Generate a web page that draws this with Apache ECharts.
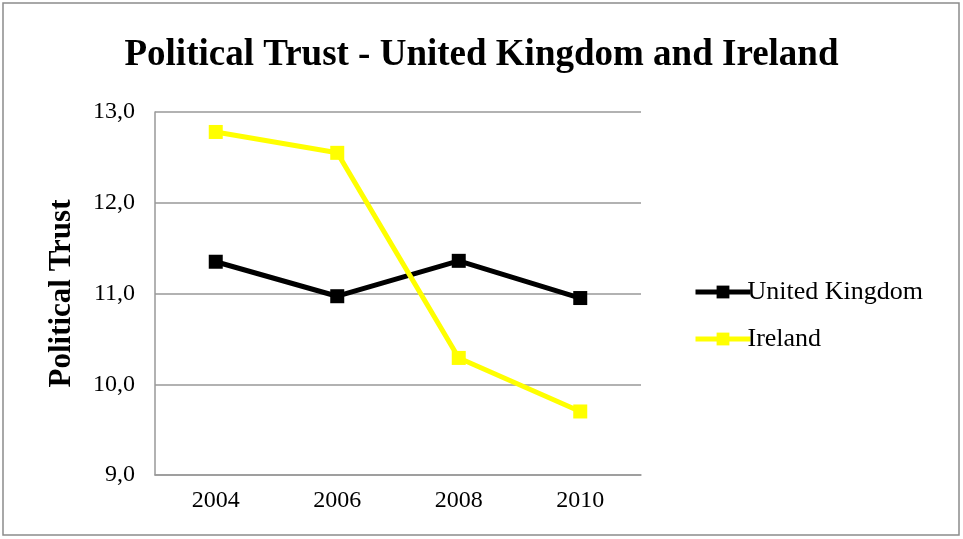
<!DOCTYPE html>
<html>
<head>
<meta charset="utf-8">
<script src="https://cdn.jsdelivr.net/npm/echarts@6/dist/echarts.min.js"></script>
<style>
  html, body { margin: 0; padding: 0; background: #fff; }
  #main { width: 963px; height: 539px; }
</style>
</head>
<body>
<div id="main"></div>
<script>
  // data
  const years = ['2004', '2006', '2008', '2010'];
  const ukValues = [11.35, 10.97, 11.36, 10.95];
  const irelandValues = [12.78, 12.55, 10.29, 9.70];

  const serif = '"Liberation Serif", "DejaVu Serif", serif';

  const myChart = echarts.init(document.getElementById('main'));
  const option = {
    animation: false,
    backgroundColor: '#fff',
    textStyle: { fontFamily: serif },
    title: {
      text: 'Political Trust - United Kingdom and Ireland',
      left: 'center',
      top: 32,
      textStyle: { fontFamily: serif, fontSize: 37, fontWeight: 'bold', color: '#000' }
    },
    graphic: [
      {
        type: 'rect',
        shape: { x: 3, y: 3, width: 956, height: 532 },
        style: { fill: 'none', stroke: '#8c8c8c', lineWidth: 1.5 },
        silent: true
      }
    ],
    legend: {
      orient: 'vertical',
      left: 688,
      top: 274,
      itemWidth: 55,
      itemHeight: 16,
      itemGap: 21,
      lineStyle: { width: 5 },
      textStyle: { fontFamily: serif, fontSize: 26, color: '#000', padding: [0, 0, 0, -8] },
      data: ['United Kingdom', 'Ireland']
    },
    grid: {
      left: 155,
      right: 322,
      top: 112,
      bottom: 64
    },
    xAxis: {
      type: 'category',
      data: years,
      axisLine: { lineStyle: { color: '#999', width: 1.5 } },
      axisTick: { show: false },
      axisLabel: { fontFamily: serif, fontSize: 24, color: '#000', margin: 14 }
    },
    yAxis: {
      type: 'value',
      min: 9,
      max: 13,
      interval: 1,
      name: 'Political Trust',
      nameLocation: 'middle',
      nameGap: 78,
      nameRotate: 90,
      nameTextStyle: { fontFamily: serif, fontSize: 31, fontWeight: 'bold', color: '#000' },
      axisLine: { show: true, lineStyle: { color: '#999', width: 1.5 } },
      axisTick: { show: false },
      splitLine: { lineStyle: { color: '#999', width: 1.5 } },
      axisLabel: {
        fontFamily: serif, fontSize: 24, color: '#000', margin: 20,
        formatter: v => v.toFixed(1).replace('.', ',')
      }
    },
    series: [
      {
        name: 'United Kingdom',
        type: 'line',
        data: ukValues,
        symbol: 'rect',
        symbolSize: 14,
        color: '#000',
        lineStyle: { width: 5, color: '#000' },
        itemStyle: { color: '#000' }
      },
      {
        name: 'Ireland',
        type: 'line',
        data: irelandValues,
        symbol: 'rect',
        symbolSize: 14,
        color: '#ffff00',
        lineStyle: { width: 5, color: '#ffff00' },
        itemStyle: { color: '#ffff00' }
      }
    ]
  };
  myChart.setOption(option);
</script>
</body>
</html>
